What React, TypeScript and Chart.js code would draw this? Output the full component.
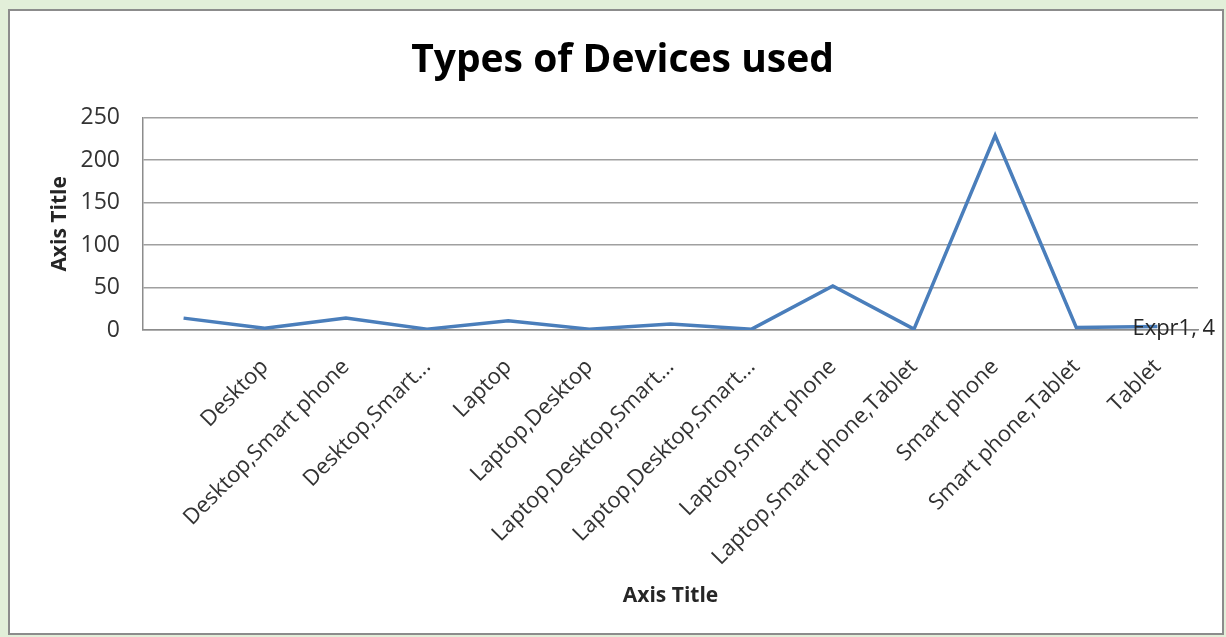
import React, { useEffect, useRef } from "react";
import { Chart, registerables } from "chart.js";

Chart.register(...registerables);

const chartTitle = "Types of Devices used";
const seriesName = "Expr1";
const categories = [
  "",
  "Desktop",
  "Desktop,Smart phone",
  "Desktop,Smart...",
  "Laptop",
  "Laptop,Desktop",
  "Laptop,Desktop,Smart...",
  "Laptop,Desktop,Smart...",
  "Laptop,Smart phone",
  "Laptop,Smart phone,Tablet",
  "Smart phone",
  "Smart phone,Tablet",
  "Tablet",
];
const values = [14, 2, 14, 1, 11, 1, 7, 1, 52, 1, 229, 3, 4];
const yTicks = [0, 50, 100, 150, 200, 250];
const xAxisTitle = "Axis Title";
const yAxisTitle = "Axis Title";

const FONT = "'Open Sans', Lato, sans-serif";

const lastLabelPlugin = {
  id: "lastLabel",
  afterDatasetsDraw(chart: any) {
    const meta = chart.getDatasetMeta(0);
    const idx = values.length - 1;
    const pt = meta.data[idx];
    if (!pt) return;
    const ctx = chart.ctx;
    ctx.save();
    ctx.font = `22px ${FONT}`;
    ctx.fillStyle = "#262626";
    ctx.textAlign = "left";
    ctx.textBaseline = "middle";
    ctx.fillText(`${seriesName}, ${values[idx]}`, pt.x - 25, pt.y + 2);
    ctx.restore();
  },
};

export default function App() {
  const ref = useRef<HTMLCanvasElement | null>(null);

  useEffect(() => {
    if (!ref.current) return;
    const chart = new Chart(ref.current, {
      type: "line",
      data: {
        labels: categories,
        datasets: [
          {
            label: seriesName,
            data: values,
            borderColor: "#4a7ebb",
            backgroundColor: "#4a7ebb",
            borderWidth: 3.5,
            pointRadius: 0,
            tension: 0,
            fill: false,
          },
        ],
      },
      options: {
        responsive: false,
        animation: false,
        layout: { padding: { left: 37, right: 24, top: 0, bottom: 24 } },
        plugins: {
          legend: { display: false },
          tooltip: { enabled: false },
          title: {
            display: true,
            text: chartTitle,
            color: "#000",
            font: { family: FONT, size: 39, weight: "bold" },
            padding: { top: 26, bottom: 34 },
          },
        },
        scales: {
          x: {
            offset: true,
            grid: { display: false, drawTicks: false, offset: true },
            border: { display: true, color: "#8c8c8c", width: 1.5 },
            ticks: {
              autoSkip: false,
              minRotation: 45,
              maxRotation: 45,
              padding: 24,
              color: "#333",
              font: { family: FONT, size: 22 },
            },
            title: {
              display: true,
              text: xAxisTitle,
              color: "#262626",
              font: { family: FONT, size: 21, weight: "bold" },
              padding: 0,
            },
            afterFit: (s: any) => {
              s.height = 279;
              s.paddingLeft = 0;
              s.paddingRight = 0;
            },
          },
          y: {
            min: 0,
            max: 250,
            afterBuildTicks: (s: any) => {
              s.ticks = yTicks.map((v) => ({ value: v }));
            },
            grid: { color: "#a0a0a0", lineWidth: 1.5, drawTicks: false },
            border: { display: true, color: "#8c8c8c", width: 1.5 },
            ticks: {
              padding: 23,
              color: "#333",
              font: { family: FONT, size: 23 },
            },
            title: {
              display: true,
              text: yAxisTitle,
              color: "#262626",
              font: { family: FONT, size: 21, weight: "bold" },
              padding: 0,
            },
            afterFit: (s: any) => {
              s.width = 96;
            },
          },
        },
      },
      plugins: [lastLabelPlugin],
    } as any);
    return () => chart.destroy();
  }, []);

  return (
    <div
      style={{
        position: "fixed",
        left: 0,
        top: 0,
        width: 1226,
        height: 637,
        background: "#e2efd9",
        overflow: "hidden",
      }}
    >
      <div
        style={{
          position: "absolute",
          left: 8,
          top: 9,
          width: 1212,
          height: 622,
          border: "2px solid #8c8c8c",
          background: "#fff",
        }}
      >
        <canvas
          ref={ref}
          width={1212}
          height={622}
          style={{ display: "block", width: 1212, height: 622 }}
        />
      </div>
    </div>
  );
}
